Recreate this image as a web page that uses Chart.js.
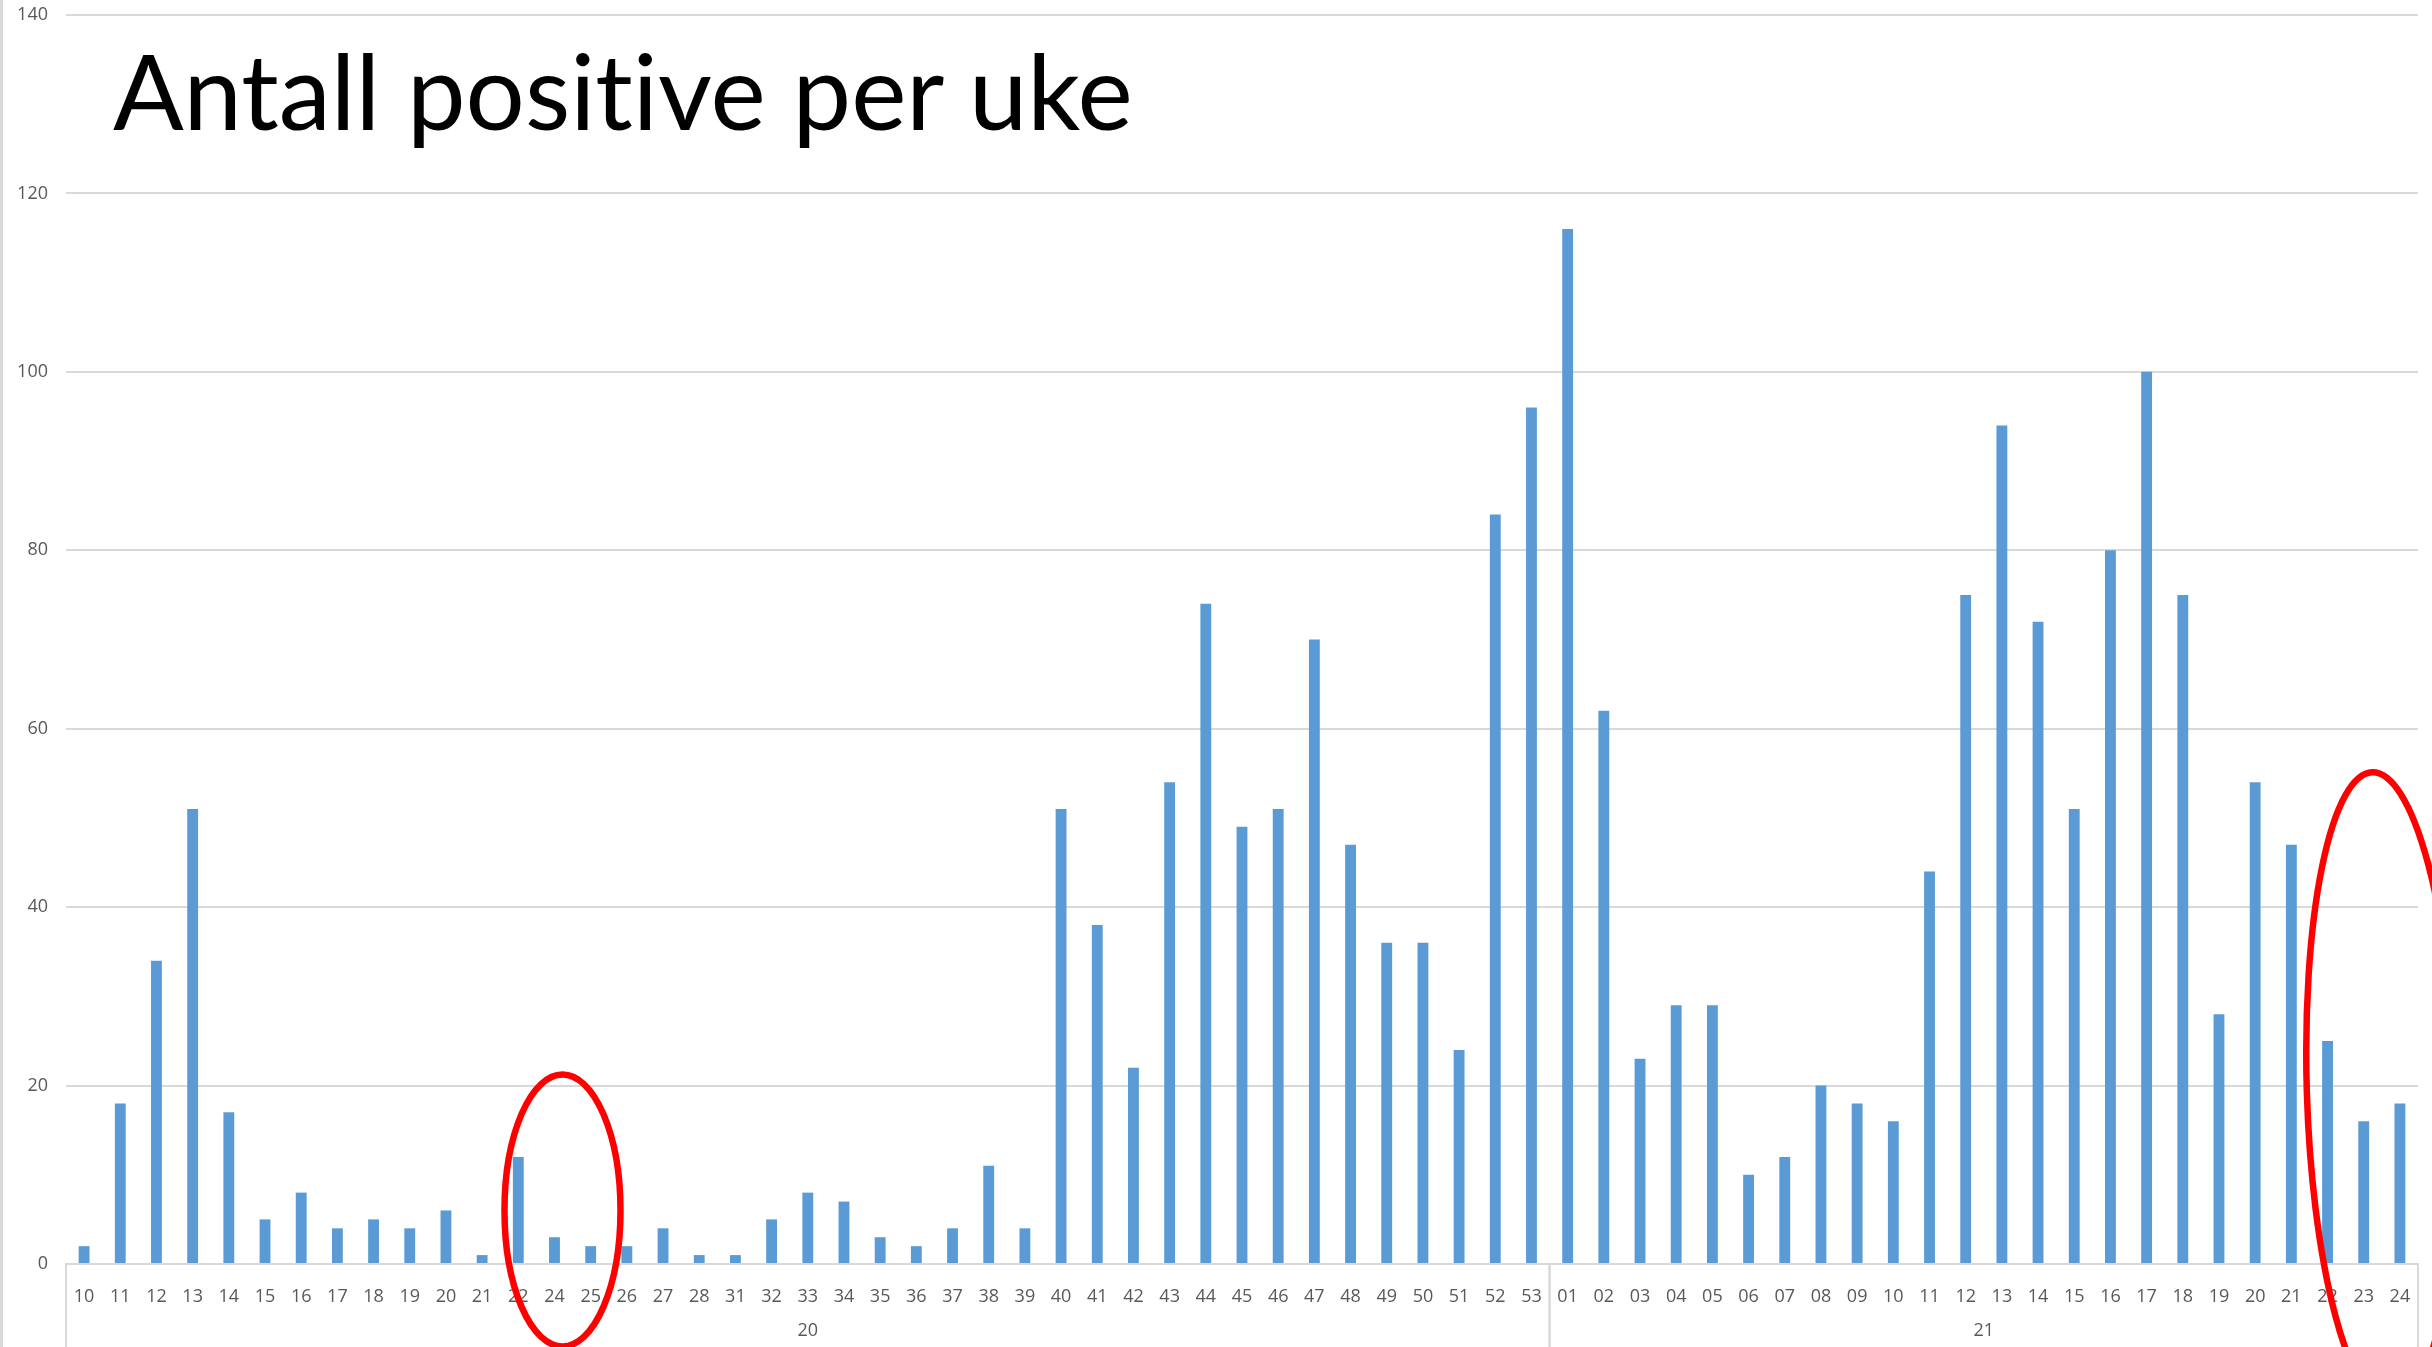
<!DOCTYPE html>
<html>
<head>
<meta charset="utf-8">
<script src="https://cdn.jsdelivr.net/npm/chart.js@4.4.1/dist/chart.umd.min.js"></script>
<style>
  html, body { margin: 0; padding: 0; background: #fff; overflow: hidden; }
  #wrap { position: relative; width: 2432px; height: 1347px; }
  #chart { position: absolute; left: 0; top: 0; }
  #title {
    position: absolute; left: 113px; top: 0; margin: 0;
    font-family: Lato, "Open Sans", sans-serif; font-weight: normal;
    font-variant-ligatures: none; font-feature-settings: "liga" 0;
    color: #000; white-space: nowrap; line-height: 1;
  }
</style>
</head>
<body>
<div id="wrap">
  <canvas id="chart" width="2432" height="1347"></canvas>
  <h1 id="title">Antall positive per uke</h1>
</div>
<script>
// week numbers per year (2020 skips 23, 29, 30)
const weeks2020 = ["10","11","12","13","14","15","16","17","18","19","20","21","22","24","25","26","27","28","31","32","33","34","35","36","37","38","39","40","41","42","43","44","45","46","47","48","49","50","51","52","53"];
const weeks2021 = ["01","02","03","04","05","06","07","08","09","10","11","12","13","14","15","16","17","18","19","20","21","22","23","24"];
const yearLabels = ["20", "21"];

// positives per week
const positives2020 = [2,18,34,51,17,5,8,4,5,4,6,1,12,3,2,2,4,1,1,5,8,7,3,2,4,11,4,51,38,22,54,74,49,51,70,47,36,36,24,84,96];
const positives2021 = [116,62,23,29,29,10,12,20,18,16,44,75,94,72,51,80,100,75,28,54,47,25,16,18];

const yTicks = [0, 20, 40, 60, 80, 100, 120, 140];

const categories = weeks2020.concat(weeks2021);
const values = positives2020.concat(positives2021);
const groupSizes = [weeks2020.length, weeks2021.length];

const tickFont = { family: "'Open Sans', sans-serif", size: 18 };
const tickColor = "#595959";
const lineColor = "#d9d9d9";

// fit the title to the width it has in the reference
(function () {
  const t = document.getElementById("title");
  const c = document.createElement("canvas").getContext("2d");
  c.font = "100px Lato, 'Open Sans', sans-serif";
  const m = c.measureText(t.textContent);
  const size = 100 * 1024 / m.width;
  const asc = m.fontBoundingBoxAscent * size / 100;
  const desc = m.fontBoundingBoxDescent * size / 100;
  t.style.fontSize = size + "px";
  t.style.top = (131 - ((size - asc - desc) / 2 + asc)) + "px";
})();

const extras = {
  id: "extras",
  afterDraw(chart) {
    const ctx = chart.ctx;
    const x = chart.scales.x;
    const y = chart.scales.y;
    const area = chart.chartArea;
    const half = (x.getPixelForValue(1) - x.getPixelForValue(0)) / 2;

    ctx.save();
    // outer frame line on the left
    ctx.strokeStyle = lineColor;
    ctx.lineWidth = 3;
    ctx.beginPath();
    ctx.moveTo(1.5, 0);
    ctx.lineTo(1.5, chart.height);
    ctx.stroke();

    // year group boxes below the week labels
    ctx.lineWidth = 2;
    ctx.fillStyle = tickColor;
    ctx.font = "18px 'Open Sans', sans-serif";
    ctx.textAlign = "center";
    ctx.textBaseline = "middle";
    let start = 0;
    groupSizes.forEach((n, g) => {
      const x0 = x.getPixelForValue(start) - half;
      const x1 = x.getPixelForValue(start + n - 1) + half;
      ctx.beginPath();
      ctx.moveTo(x0, area.bottom);
      ctx.lineTo(x0, chart.height);
      ctx.moveTo(x1, area.bottom);
      ctx.lineTo(x1, chart.height);
      ctx.stroke();
      ctx.fillText(yearLabels[g], (x0 + x1) / 2, 1331);
      start += n;
    });

    // red rings
    ctx.strokeStyle = "#ff0000";
    ctx.lineWidth = 6.5;
    ctx.beginPath();
    ctx.ellipse(x.getPixelForValue(13) + 8, y.getPixelForValue(6), 58, 136, 0, 0, Math.PI * 2);
    ctx.stroke();
    ctx.beginPath();
    ctx.ellipse(x.getPixelForValue(63) + half, y.getPixelForValue(19.5), 75, 318, -0.03, 0, Math.PI * 2);
    ctx.stroke();
    ctx.restore();
  }
};

new Chart(document.getElementById("chart"), {
  type: "bar",
  data: {
    labels: categories,
    datasets: [{
      data: values,
      backgroundColor: "#5b9bd5",
      borderWidth: 0,
      barPercentage: 0.3,
      categoryPercentage: 1.0
    }]
  },
  options: {
    responsive: false,
    animation: false,
    events: [],
    layout: { padding: { top: 15, right: 14, left: 0, bottom: 0 } },
    plugins: { legend: { display: false }, tooltip: { enabled: false } },
    scales: {
      x: {
        grid: { display: false },
        border: { display: true, color: lineColor, width: 2 },
        ticks: { color: tickColor, font: tickFont, padding: 14, autoSkip: false, maxRotation: 0 },
        afterFit(scale) { scale.height = 83; scale.paddingLeft = 0; scale.paddingRight = 0; }
      },
      y: {
        min: 0,
        max: 140,
        grid: { color: lineColor, lineWidth: 2, drawTicks: false },
        border: { display: false },
        afterBuildTicks(scale) { scale.ticks = yTicks.map(v => ({ value: v })); },
        ticks: { color: tickColor, font: tickFont, padding: 18 },
        afterFit(scale) { scale.width = 66; scale.paddingTop = 0; scale.paddingBottom = 0; }
      }
    }
  },
  plugins: [extras]
});
</script>
</body>
</html>
